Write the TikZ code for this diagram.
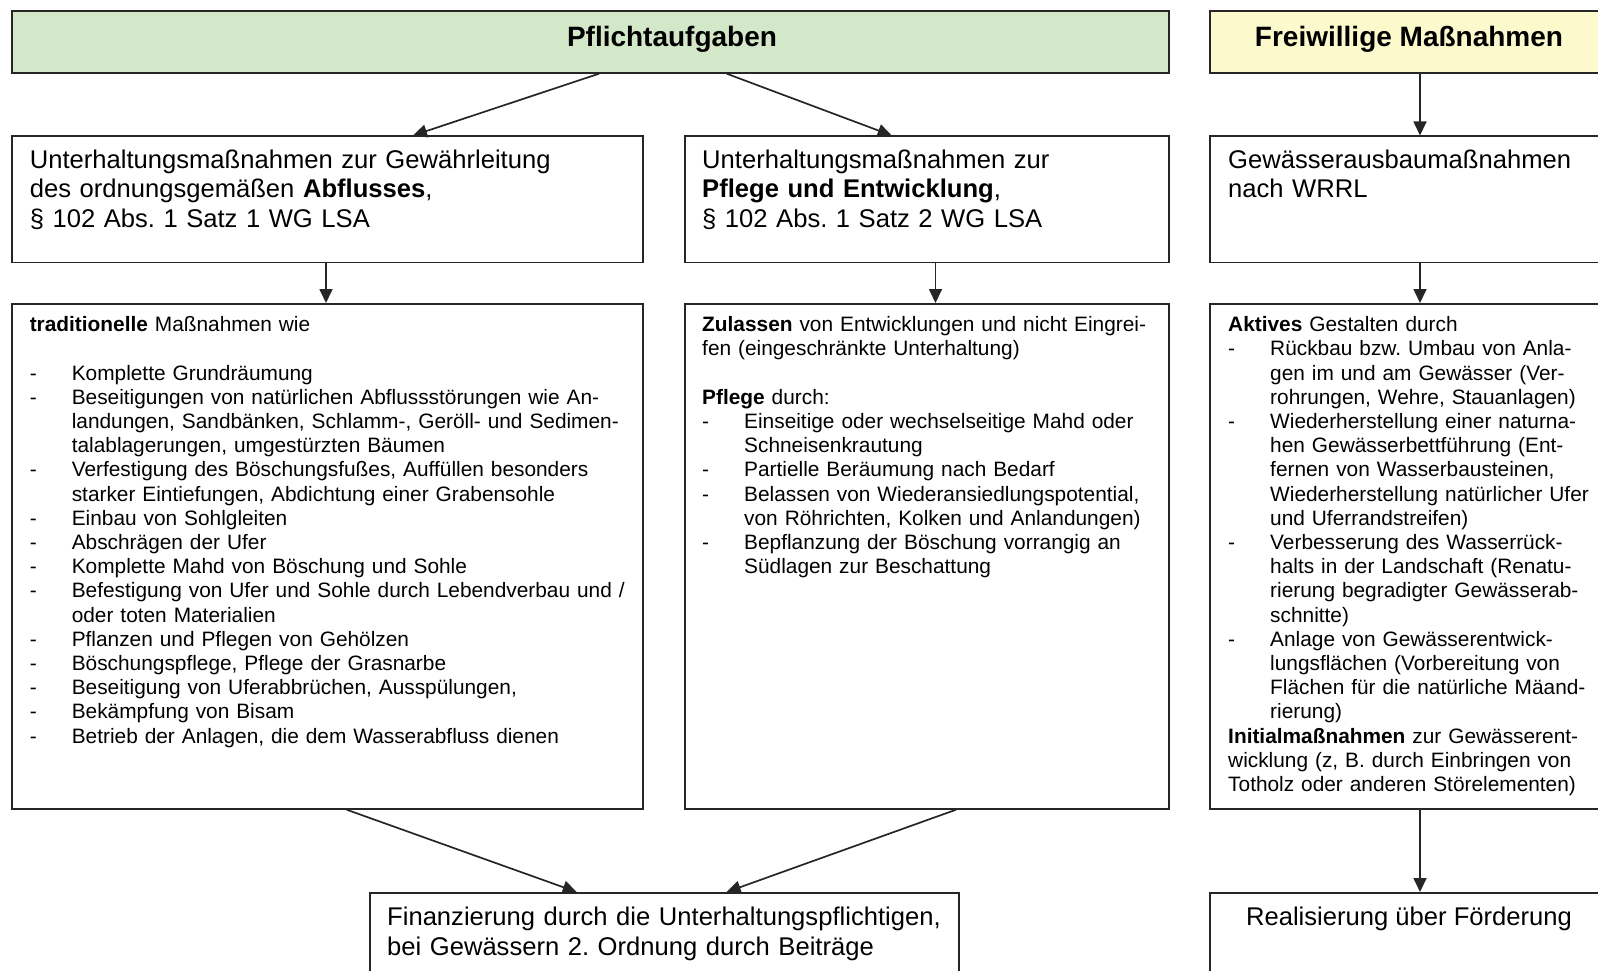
\documentclass[tikz,border=0pt]{standalone}
\usepackage{fontspec}
\setmainfont{Liberation Sans}
\usetikzlibrary{arrows.meta,calc}
\frenchspacing
\definecolor{hgreen}{HTML}{D2E8C9}
\definecolor{hyellow}{HTML}{FCF9CC}
\definecolor{lcol}{HTML}{262626}
\newcommand\itm[1]{\makebox[42pt][l]{-}#1}
\newcommand\cnt[1]{\hspace*{42pt}#1}
\tikzset{
  box/.style={draw=lcol, line width=1.7pt, rectangle, inner sep=0pt, anchor=north west},
  hdrtext/.style={font=\fontsize{28}{32}\selectfont\bfseries, anchor=base, inner sep=0pt},
  midtext/.style={font=\fontsize{25.6}{29.7}\selectfont, anchor=north west, inner sep=0pt, align=left, text width=#1},
  smalltext/.style={font=\fontsize{20.85}{24.2}\selectfont, anchor=north west, inner sep=0pt, align=left, text width=#1},
  arr/.style={draw=lcol, line width=1.7pt, -{Triangle[length=14pt,width=13pt]}}
}
\begin{document}
\begin{tikzpicture}[x=1pt,y=-1pt]
\useasboundingbox (0,0) rectangle (1598,971);
\clip (0,0) rectangle (1598,971);
% boxes
\node[box, fill=hgreen, minimum width=1157pt, minimum height=62pt] (P) at (11,10) {};
\node[box, fill=hyellow, minimum width=400pt, minimum height=62pt] (F) at (1209,10) {};
\node[box, minimum width=631pt, minimum height=126pt] (A1) at (11,135.5) {};
\node[box, minimum width=484pt, minimum height=126pt] (A2) at (684,135.5) {};
\node[box, minimum width=400pt, minimum height=126pt] (A3) at (1209,135.5) {};
\node[box, minimum width=631pt, minimum height=505pt] (B1) at (11,303) {};
\node[box, minimum width=484pt, minimum height=505pt] (B2) at (684,303) {};
\node[box, minimum width=400pt, minimum height=505pt] (B3) at (1209,303) {};
\node[box, minimum width=589pt, minimum height=120pt] (C1) at (369,892) {};
\node[box, minimum width=400pt, minimum height=120pt] (C3) at (1209,892) {};
% header texts
\node[hdrtext] (Pt) at (672,47) {Pflichtaufgaben};
\node[hdrtext] (Ft) at (1409,47) {Freiwillige Maßnahmen};
% row 2 texts
\node[midtext=600pt] (A1t) at (29.6,146) {\rule{0pt}{22pt}Unterhaltungsmaßnahmen zur Gewährleitung\\
des ordnungsgemäßen \textbf{Abflusses},\\
§ 102 Abs. 1 Satz 1 WG LSA};
\node[midtext=460pt] (A2t) at (702,146) {\rule{0pt}{22pt}Unterhaltungsmaßnahmen zur\\
\textbf{Pflege und Entwicklung},\\
§ 102 Abs. 1 Satz 2 WG LSA};
\node[midtext=375pt] (A3t) at (1228,146) {\rule{0pt}{22pt}Gewässerausbaumaßnahmen\\
nach WRRL};
% row 3 texts
\node[smalltext=605pt] (B1t) at (29.6,312.5) {\rule{0pt}{19pt}\textbf{traditionelle} Maßnahmen wie\\
\mbox{}\\
\itm{Komplette Grundräumung}\\
\itm{Beseitigungen von natürlichen Abflussstörungen wie An-}\\
\cnt{landungen, Sandbänken, Schlamm-, Geröll- und Sedimen-}\\
\cnt{talablagerungen, umgestürzten Bäumen}\\
\itm{Verfestigung des Böschungsfußes, Auffüllen besonders}\\
\cnt{starker Eintiefungen, Abdichtung einer Grabensohle}\\
\itm{Einbau von Sohlgleiten}\\
\itm{Abschrägen der Ufer}\\
\itm{Komplette Mahd von Böschung und Sohle}\\
\itm{Befestigung von Ufer und Sohle durch Lebendverbau und /}\\
\cnt{oder toten Materialien}\\
\itm{Pflanzen und Pflegen von Gehölzen}\\
\itm{Böschungspflege, Pflege der Grasnarbe}\\
\itm{Beseitigung von Uferabbrüchen, Ausspülungen,}\\
\itm{Bekämpfung von Bisam}\\
\itm{Betrieb der Anlagen, die dem Wasserabfluss dienen}};
\node[smalltext=460pt] (B2t) at (702,312.5) {\rule{0pt}{19pt}\textbf{Zulassen} von Entwicklungen und nicht Eingrei-\\
fen (eingeschränkte Unterhaltung)\\
\mbox{}\\
\textbf{Pflege} durch:\\
\itm{Einseitige oder wechselseitige Mahd oder}\\
\cnt{Schneisenkrautung}\\
\itm{Partielle Beräumung nach Bedarf}\\
\itm{Belassen von Wiederansiedlungspotential,}\\
\cnt{von Röhrichten, Kolken und Anlandungen)}\\
\itm{Bepflanzung der Böschung vorrangig an}\\
\cnt{Südlagen zur Beschattung}};
\node[smalltext=378pt] (B3t) at (1228,312.5) {\rule{0pt}{19pt}\textbf{Aktives} Gestalten durch\\
\itm{Rückbau bzw. Umbau von Anla-}\\
\cnt{gen im und am Gewässer (Ver-}\\
\cnt{rohrungen, Wehre, Stauanlagen)}\\
\itm{Wiederherstellung einer naturna-}\\
\cnt{hen Gewässerbettführung (Ent-}\\
\cnt{fernen von Wasserbausteinen,}\\
\cnt{Wiederherstellung natürlicher Ufer}\\
\cnt{und Uferrandstreifen)}\\
\itm{Verbesserung des Wasserrück-}\\
\cnt{halts in der Landschaft (Renatu-}\\
\cnt{rierung begradigter Gewässerab-}\\
\cnt{schnitte)}\\
\itm{Anlage von Gewässerentwick-}\\
\cnt{lungsflächen (Vorbereitung von}\\
\cnt{Flächen für die natürliche Mäand-}\\
\cnt{rierung)}\\
\textbf{Initialmaßnahmen} zur Gewässerent-\\
wicklung (z, B. durch Einbringen von\\
Totholz oder anderen Störelementen)};
% bottom texts
\node[font=\fontsize{25.6}{30.4}\selectfont, anchor=north west, inner sep=0pt, align=left, text width=570pt] (C1t) at (387,902) {\rule{0pt}{23pt}Finanzierung durch die Unterhaltungspflichtigen,\\
bei Gewässern 2. Ordnung durch Beiträge};
\node[font=\fontsize{25.6}{30.4}\selectfont, anchor=base, inner sep=0pt] (C3t) at (1409,925) {Realisierung über Förderung};
% connector anchor points
\coordinate (p1) at ($(P.south west)+(588,0)$);
\coordinate (p2) at ($(P.south west)+(715.7,0)$);
\coordinate (a1) at ($(A1.north west)+(402,0)$);
\coordinate (a2) at ($(A2.north west)+(207.7,0)$);
\coordinate (f1) at ($(F.south west)+(211,0)$);
\coordinate (a3) at ($(A3.north west)+(211,0)$);
\coordinate (a1b) at ($(A1.south west)+(315,0)$);
\coordinate (b1) at ($(B1.north west)+(315,0)$);
\coordinate (a2b) at ($(A2.south west)+(251.5,0)$);
\coordinate (b2) at ($(B2.north west)+(251.5,0)$);
\coordinate (a3b) at ($(A3.south west)+(211,0)$);
\coordinate (b3) at ($(B3.north west)+(211,0)$);
\coordinate (b1b) at ($(B1.south west)+(335.7,0)$);
\coordinate (b2b) at ($(B2.south west)+(272,0)$);
\coordinate (c1l) at ($(C1.north west)+(207.7,0)$);
\coordinate (c1r) at ($(C1.north west)+(357.7,0)$);
\coordinate (b3b) at ($(B3.south west)+(211,0)$);
\coordinate (c3) at ($(C3.north west)+(211,0)$);
% connectors
\draw[arr] (p1) -- (a1);
\draw[arr] (p2) -- (a2);
\draw[arr] (f1) -- (a3);
\draw[arr] (a1b) -- (b1);
\draw[arr] (a2b) -- (b2);
\draw[arr] (a3b) -- (b3);
\draw[arr] (b1b) -- (c1l);
\draw[arr] (b2b) -- (c1r);
\draw[arr] (b3b) -- (c3);
\end{tikzpicture}
\end{document}
